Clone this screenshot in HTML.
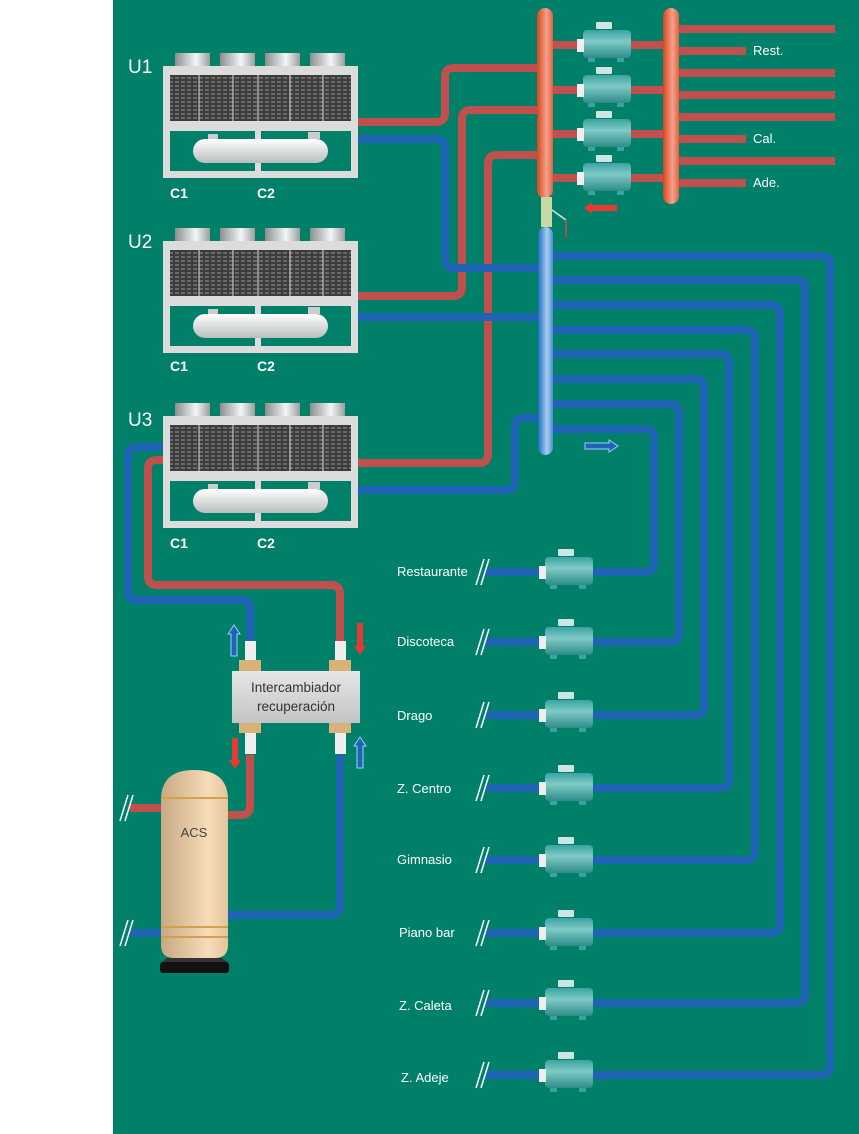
<!DOCTYPE html>
<html><head><meta charset="utf-8"><style>
html,body{margin:0;padding:0;background:#fff}
svg{display:block}
text{font-family:"Liberation Sans",sans-serif;fill:#fff}
</style></head><body>
<svg width="859" height="1134" viewBox="0 0 859 1134" xmlns="http://www.w3.org/2000/svg">
<defs>
<linearGradient id="fan" x1="0" x2="1"><stop offset="0" stop-color="#8a8f8e"/><stop offset="0.6" stop-color="#f4f6f6"/><stop offset="1" stop-color="#9a9f9e"/></linearGradient>
<linearGradient id="tank" x1="0" y1="0" x2="0" y2="1"><stop offset="0" stop-color="#ffffff"/><stop offset="1" stop-color="#b9bdbd"/></linearGradient>
<linearGradient id="acs" x1="0" x2="1"><stop offset="0" stop-color="#c8a883"/><stop offset="0.7" stop-color="#f6dcb8"/><stop offset="1" stop-color="#e3c59d"/></linearGradient>
<linearGradient id="pump" x1="0" y1="0" x2="0" y2="1"><stop offset="0" stop-color="#3aa3a0"/><stop offset="0.4" stop-color="#7fcac6"/><stop offset="1" stop-color="#2e8c88"/></linearGradient>
<linearGradient id="rh" x1="0" x2="1"><stop offset="0" stop-color="#d9441c"/><stop offset="0.6" stop-color="#f4a28c"/><stop offset="1" stop-color="#e06040"/></linearGradient>
<linearGradient id="bh" x1="0" x2="1"><stop offset="0" stop-color="#1a6fc0"/><stop offset="0.6" stop-color="#a9cdef"/><stop offset="1" stop-color="#4a8fd4"/></linearGradient>
<linearGradient id="hx" x1="0" y1="0" x2="0" y2="1"><stop offset="0" stop-color="#e6e6e6"/><stop offset="1" stop-color="#c4c4c4"/></linearGradient>
<pattern id="grid" width="6" height="4" patternUnits="userSpaceOnUse"><rect width="6" height="4" fill="#3c3c3c"/><rect width="4" height="2" fill="#6a6a6a"/></pattern>
<g id="chiller">
 <rect x="12" y="0" width="35" height="14" fill="url(#fan)"/>
 <rect x="57" y="0" width="35" height="14" fill="url(#fan)"/>
 <rect x="102" y="0" width="35" height="14" fill="url(#fan)"/>
 <rect x="147" y="0" width="35" height="14" fill="url(#fan)"/>
 <rect x="0" y="13" width="195" height="112" fill="#dcdcdc"/>
 <rect x="7" y="22" width="181" height="46" fill="url(#grid)"/>
 <line x1="36" y1="22" x2="36" y2="68" stroke="#ddd" stroke-width="1"/>
 <line x1="70" y1="22" x2="70" y2="68" stroke="#ddd" stroke-width="1"/>
 <line x1="95" y1="22" x2="95" y2="68" stroke="#ddd" stroke-width="1"/>
 <line x1="127" y1="22" x2="127" y2="68" stroke="#ddd" stroke-width="1"/>
 <line x1="160" y1="22" x2="160" y2="68" stroke="#ddd" stroke-width="1"/>
 <rect x="7" y="78" width="181" height="40" fill="#008068"/>
 <rect x="92" y="78" width="6" height="40" fill="#dcdcdc"/>
 <rect x="30" y="86" width="135" height="24" rx="12" fill="url(#tank)"/>
 <rect x="45" y="81" width="10" height="5" fill="#ccc"/>
 <rect x="145" y="79" width="12" height="7" fill="#ccc"/>
 <rect x="0" y="118" width="195" height="5" fill="#dcdcdc"/>
</g>
<g id="pmp">
 <rect x="-12" y="-23" width="16" height="7" rx="1" fill="#cde6e4"/>
 <rect x="-25" y="-15" width="48" height="28" rx="4" fill="url(#pump)"/>
 <rect x="-31" y="-6" width="7" height="13" fill="#eee"/>
 <rect x="-20" y="13" width="7" height="4" fill="#3aa3a0"/>
 <rect x="9" y="13" width="7" height="4" fill="#3aa3a0"/>
</g>
<g id="slash"><line x1="-4" y1="13" x2="4" y2="-13" stroke="#fff" stroke-width="1.5"/><line x1="1" y1="13" x2="9" y2="-13" stroke="#fff" stroke-width="1.5"/></g>
</defs>
<rect x="113" y="0" width="746" height="1134" fill="#008068"/>

<g fill="none" stroke-linejoin="round" stroke-width="8">
<g stroke="#c0504d">
 <path d="M358 122 H436 Q445 122 445 113 V77 Q445 68 454 68 H540"/>
 <path d="M358 296 H453 Q462 296 462 287 V119 Q462 110 471 110 H540"/>
 <path d="M358 463 H479 Q488 463 488 454 V164 Q488 155 497 155 H540"/>
 <path d="M553 45 H663 M553 90 H663 M553 134 H663 M553 178 H663"/>
 <path d="M679 29 H835 M679 51 H746 M679 73 H835 M679 95 H835 M679 117 H835 M679 139 H746 M679 161 H835 M679 183 H746"/>
 <path d="M163 460 H157 Q148 460 148 469 V576 Q148 585 157 585 H331 Q340 585 340 594 V642"/>
 <path d="M250 755 V806 Q250 815 241 815 H228"/>
 <path d="M130 808 H161"/>
</g>
<g stroke="#1f64b4">
 <path d="M358 139 H436 Q445 139 445 148 V259 Q445 268 454 268 H540"/>
 <path d="M358 317 H540"/>
 <path d="M358 490 H506 Q515 490 515 481 V427 Q515 418 524 418 H540"/>
 <path d="M553 256 H821 Q830 256 830 265 V1066 Q830 1075 821 1075 H485"/>
 <path d="M553 280 H796 Q805 280 805 289 V994 Q805 1003 796 1003 H485"/>
 <path d="M553 305 H771 Q780 305 780 314 V924 Q780 933 771 933 H485"/>
 <path d="M553 330 H746 Q755 330 755 339 V851 Q755 860 746 860 H485"/>
 <path d="M553 354 H720 Q729 354 729 363 V779 Q729 788 720 788 H485"/>
 <path d="M553 379 H695 Q704 379 704 388 V706 Q704 715 695 715 H485"/>
 <path d="M553 404 H670 Q679 404 679 413 V633 Q679 642 670 642 H485"/>
 <path d="M553 429 H645 Q654 429 654 438 V563 Q654 572 645 572 H485"/>
 <path d="M163 447 H137 Q128 447 128 456 V591 Q128 600 137 600 H241 Q250 600 250 609 V642"/>
 <path d="M340 755 V906 Q340 915 331 915 H228"/>
 <path d="M130 933 H161"/>
</g>
</g>

<rect x="537" y="8" width="16" height="190" rx="8" fill="url(#rh)"/>
<rect x="663" y="8" width="16" height="196" rx="8" fill="url(#rh)"/>
<rect x="541" y="197" width="11" height="30" fill="#c9d9a5"/>
<line x1="552" y1="210" x2="566" y2="220" stroke="#ddd" stroke-width="1.5"/>
<line x1="566" y1="220" x2="566" y2="238" stroke="#c0504d" stroke-width="1.5"/>
<rect x="538" y="227" width="15" height="228" rx="7.5" fill="url(#bh)"/>

<path d="M617 205 H592 V202 L584 208 L592 214 V211 H617 Z" fill="#e53935"/>
<path d="M585 443 H609 V440 L618 446 L609 452 V449 H585 Z" fill="#1f64b4" stroke="#9cd0ff" stroke-width="1"/>
<path d="M231 656 V634 H228 L234 625 L240 634 H237 V656 Z" fill="#1f64b4" stroke="#9cd0ff" stroke-width="1"/>
<path d="M357 623 V646 H354 L360 655 L366 646 H363 V623 Z" fill="#e53935"/>
<path d="M232 738 V760 H229 L235 769 L241 760 H238 V738 Z" fill="#e53935"/>
<path d="M357 768 V746 H354 L360 737 L366 746 H363 V768 Z" fill="#1f64b4" stroke="#9cd0ff" stroke-width="1"/>

<use href="#pmp" x="608" y="45"/><use href="#pmp" x="608" y="90"/><use href="#pmp" x="608" y="134"/><use href="#pmp" x="608" y="178"/>
<use href="#pmp" x="570" y="572"/><use href="#pmp" x="570" y="642"/><use href="#pmp" x="570" y="715"/><use href="#pmp" x="570" y="788"/>
<use href="#pmp" x="570" y="860"/><use href="#pmp" x="570" y="933"/><use href="#pmp" x="570" y="1003"/><use href="#pmp" x="570" y="1075"/>

<use href="#chiller" x="163" y="53"/>
<use href="#chiller" x="163" y="228"/>
<use href="#chiller" x="163" y="403"/>

<rect x="245" y="641" width="11" height="30" fill="#eee"/><rect x="335" y="641" width="11" height="30" fill="#eee"/>
<rect x="245" y="722" width="11" height="32" fill="#eee"/><rect x="335" y="722" width="11" height="32" fill="#eee"/>
<rect x="239" y="660" width="22" height="11" fill="#d9b27a"/><rect x="329" y="660" width="22" height="11" fill="#d9b27a"/>
<rect x="239" y="722" width="22" height="11" fill="#d9b27a"/><rect x="329" y="722" width="22" height="11" fill="#d9b27a"/>
<rect x="232" y="671" width="128" height="52" fill="url(#hx)"/>
<text x="296" y="692" text-anchor="middle" font-size="13.5" style="fill:#333">Intercambiador</text>
<text x="296" y="711" text-anchor="middle" font-size="13.5" style="fill:#333">recuperación</text>

<path d="M161 800 Q161 770 194 770 Q228 770 228 800 V945 Q228 958 215 958 H174 Q161 958 161 945 Z" fill="url(#acs)"/>
<line x1="161" y1="798" x2="228" y2="798" stroke="#d6a04a" stroke-width="2"/>
<line x1="161" y1="927" x2="228" y2="927" stroke="#d6a04a" stroke-width="2"/>
<line x1="161" y1="937" x2="228" y2="937" stroke="#d6a04a" stroke-width="2"/>
<path d="M167 958 H222 L228 963 H161 Z" fill="#333"/>
<rect x="160" y="962" width="69" height="11" rx="3" fill="#111"/>
<text x="194" y="837" text-anchor="middle" font-size="13" style="fill:#444">ACS</text>
<use href="#slash" x="124" y="808"/><use href="#slash" x="124" y="933"/>

<text x="128" y="73" font-size="19">U1</text>
<text x="128" y="248" font-size="19">U2</text>
<text x="128" y="426" font-size="19">U3</text>
<g font-size="14" font-weight="bold">
<text x="170" y="198">C1</text><text x="257" y="198">C2</text>
<text x="170" y="371">C1</text><text x="257" y="371">C2</text>
<text x="170" y="548">C1</text><text x="257" y="548">C2</text>
</g>
<g font-size="13">
<text x="753" y="55">Rest.</text><text x="753" y="143">Cal.</text><text x="753" y="187">Ade.</text>
<text x="397" y="576">Restaurante</text>
<text x="397" y="646">Discoteca</text>
<text x="397" y="720">Drago</text>
<text x="397" y="793">Z. Centro</text>
<text x="397" y="864">Gimnasio</text>
<text x="399" y="937">Piano bar</text>
<text x="399" y="1010">Z. Caleta</text>
<text x="401" y="1082">Z. Adeje</text>
</g>
<use href="#slash" x="480" y="572"/><use href="#slash" x="480" y="642"/><use href="#slash" x="480" y="715"/><use href="#slash" x="480" y="788"/>
<use href="#slash" x="480" y="860"/><use href="#slash" x="480" y="933"/><use href="#slash" x="480" y="1003"/><use href="#slash" x="480" y="1075"/>
</svg>
</body></html>
